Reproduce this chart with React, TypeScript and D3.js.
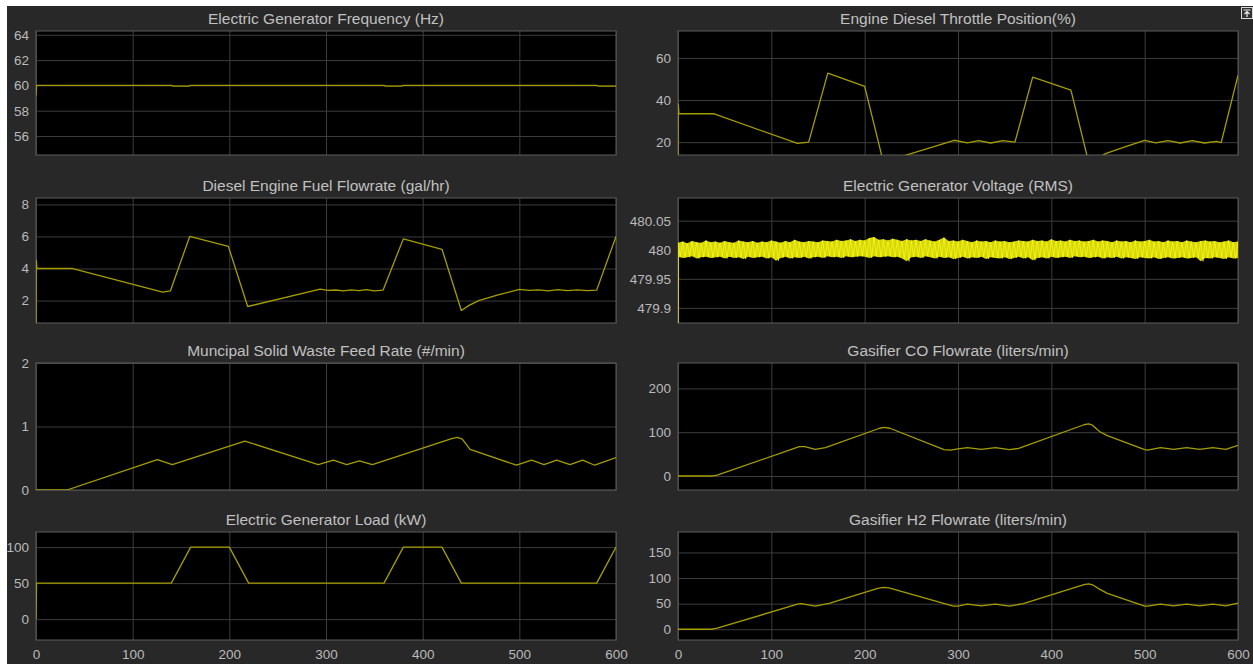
import React, { useEffect, useRef } from "react";
import * as d3 from "d3";

type Pt = [number, number];

const W = 1253;
const H = 664;

const timeTicks = [0, 100, 200, 300, 400, 500, 600];

// [time (s), value]
const frequency: Pt[] = [
  [0, 59.2], [0.5, 60], [140, 60], [142, 59.94], [158, 59.94], [160, 60], [360, 60],
  [362, 59.94], [378, 59.94], [380, 60], [580, 60], [582, 59.95], [600, 59.95],
];

const throttle: Pt[] = [
  [0, 0], [0.3, 38], [1, 33.5], [38, 33.5], [128, 19.4], [140, 20], [160.5, 52.8],
  [200, 46.5], [220, 10.5], [296, 20.9], [310, 19.7], [322, 20.7], [335, 19.6],
  [348, 20.7], [361, 20], [380, 50.9], [421, 44.7], [441, 8.5], [448, 11.5], [458, 14.6],
  [478, 17.6], [500, 20.9], [512, 19.7], [525, 20.7], [538, 19.6], [551, 20.7],
  [564, 19.6], [577, 20.4], [582, 19.8], [600, 51.7],
];

const fuel: Pt[] = [
  [0, 0], [0.3, 4.5], [1, 4.0], [38, 4.0], [131, 2.52], [139, 2.6], [159, 6.0],
  [199, 5.38], [219, 1.63], [294, 2.72], [302, 2.64], [310, 2.66], [318, 2.6],
  [326, 2.67], [334, 2.62], [342, 2.68], [350, 2.6], [359, 2.65], [380, 5.85],
  [420, 5.2], [440, 1.38], [448, 1.7], [458, 2.0], [478, 2.35], [500, 2.7], [510, 2.63],
  [520, 2.67], [530, 2.6], [540, 2.68], [550, 2.62], [560, 2.67], [570, 2.62],
  [580, 2.65], [600, 6.0],
];

// voltage noise band, offsets from 480 V in mV every 5 s
const voltageTime = d3.range(0, 601, 5);
const voltageUpper = [
  12, 14, 11, 15, 13, 12, 16, 13, 14, 12,
  15, 13, 12, 16, 14, 13, 15, 12, 14, 13,
  16, 14, 12, 15, 13, 17, 14, 13, 15, 14,
  13, 16, 15, 14, 17, 15, 16, 18, 15, 17,
  16, 20, 22, 17, 18, 16, 19, 17, 15, 18,
  16, 17, 15, 18, 16, 14, 17, 21, 15, 16,
  14, 17, 15, 13, 16, 14, 15, 13, 16, 14,
  15, 13, 14, 16, 15, 14, 17, 15, 16, 14,
  18, 15, 16, 14, 17, 15, 16, 14, 15, 17,
  14, 16, 15, 13, 16, 14, 15, 13, 16, 14,
  15, 17, 14, 15, 13, 16, 14, 15, 13, 16,
  14, 13, 15, 16, 14, 15, 13, 14, 16, 13,
  14,
];
const voltageLower = [
  -12, -14, -13, -11, -15, -13, -12, -14, -13, -12,
  -15, -12, -14, -13, -16, -12, -14, -13, -12, -15,
  -13, -19, -14, -12, -15, -13, -14, -12, -15, -13,
  -12, -14, -11, -13, -12, -14, -11, -13, -12, -11,
  -12, -14, -11, -13, -12, -11, -13, -12, -15, -20,
  -13, -12, -14, -11, -13, -15, -12, -14, -13, -16,
  -14, -12, -15, -13, -14, -12, -16, -13, -14, -15,
  -13, -16, -14, -12, -15, -13, -18, -14, -13, -15,
  -12, -14, -13, -12, -14, -11, -13, -12, -14, -13,
  -12, -15, -13, -14, -12, -15, -13, -14, -16, -13,
  -14, -15, -13, -16, -14, -13, -15, -14, -13, -15,
  -14, -13, -20, -14, -15, -13, -14, -16, -13, -15,
  -14,
];
const voltageStart: Pt[] = [[0, 479.8], [0.3, 480]];

const mswFeed: Pt[] = [
  [0, 0], [32, 0], [125.5, 0.48], [141, 0.4], [216, 0.77], [292, 0.4], [307.6, 0.47],
  [321.4, 0.4], [334.5, 0.46], [348, 0.4], [430, 0.81], [436, 0.83], [441, 0.8],
  [449, 0.64], [497, 0.39], [512.7, 0.47], [525.5, 0.4], [538.6, 0.47], [552.4, 0.4],
  [565.5, 0.47], [578, 0.39], [600, 0.51],
];

const gasCO: Pt[] = [
  [0, 0], [37, 0], [42, 2], [130, 67], [136, 67], [147, 61], [158, 65], [216, 109],
  [221, 111], [227, 109], [285, 60], [292, 59], [300, 62], [310, 65], [325, 61],
  [340, 65], [355, 60], [365, 63], [435, 117], [440, 119], [444, 116], [452, 101],
  [460, 92], [500, 60], [503, 59], [517, 65], [531, 61], [545, 65], [559, 61],
  [573, 65], [587, 61], [600, 70],
];

const load: Pt[] = [
  [0, 0], [0.5, 50], [140, 50], [160, 100], [200, 100], [220, 50], [360, 50],
  [380, 100], [420, 100], [440, 50], [580, 50], [600, 100],
];

const gasH2: Pt[] = [
  [0, 0], [36, 0], [42, 2], [128, 49], [132, 50], [147, 45], [162, 50.5], [214, 80],
  [220, 82], [226, 81], [295, 45], [300, 45], [310, 49], [325, 45.5], [340, 49],
  [355, 45], [370, 50], [435, 87], [440, 88.5], [445, 86], [452, 78], [460, 70],
  [500, 45], [503, 45], [517, 49], [531, 45.5], [545, 49], [559, 45.5], [573, 49],
  [587, 45.5], [600, 51],
];

const panels = [
  { title: "Electric Generator Frequency (Hz)", col: 0, row: 0, data: frequency, domain: [54.5, 64.3], ticks: [56, 58, 60, 62, 64] },
  { title: "Engine Diesel Throttle Position(%)", col: 1, row: 0, data: throttle, domain: [13.9, 72.8], ticks: [20, 40, 60] },
  { title: "Diesel Engine Fuel Flowrate (gal/hr)", col: 0, row: 1, data: fuel, domain: [0.6, 8.4], ticks: [2, 4, 6, 8] },
  { title: "Electric Generator Voltage (RMS)", col: 1, row: 1, data: voltageStart, domain: [479.874, 480.089], ticks: [479.9, 479.95, 480, 480.05], band: true },
  { title: "Muncipal Solid Waste Feed Rate (#/min)", col: 0, row: 2, data: mswFeed, domain: [0, 2], ticks: [0, 1, 2] },
  { title: "Gasifier CO Flowrate (liters/min)", col: 1, row: 2, data: gasCO, domain: [-32, 258], ticks: [0, 100, 200] },
  { title: "Electric Generator Load (kW)", col: 0, row: 3, data: load, domain: [-29, 121], ticks: [0, 50, 100] },
  { title: "Gasifier H2 Flowrate (liters/min)", col: 1, row: 3, data: gasH2, domain: [-21, 190], ticks: [0, 50, 100, 150] },
];

const cols = [[36, 616], [678, 1238]];
const rows = [[31, 155], [198, 323], [363, 490], [532, 640]];

const font = "'Liberation Sans', Arial, Helvetica, sans-serif";
const gridColor = "#3d3d3d";
const textColor = "#bababa";
const traceColor = "#a59d00";

export default function App() {
  const ref = useRef<SVGSVGElement>(null);

  useEffect(() => {
    document.body.style.margin = "0";
    const svg = d3.select(ref.current);
    svg.selectAll("*").remove();

    svg.append("rect").attr("width", W).attr("height", H).attr("fill", "#ffffff");
    svg.append("rect").attr("x", 7).attr("y", 6).attr("width", W - 7).attr("height", H - 6).attr("fill", "#282828");

    // undock icon, top right
    svg.append("rect").attr("x", 1241.5).attr("y", 7.5).attr("width", 11).attr("height", 11)
      .attr("fill", "#333").attr("stroke", "#d8d8d8");
    svg.append("path").attr("d", "M1243.5 10H1250.5M1247 17V11.5M1244.5 14L1247 11.5L1249.5 14")
      .attr("fill", "none").attr("stroke", "#eee").attr("stroke-width", 1.2);

    panels.forEach((p, i) => {
      const [x0, x1] = cols[p.col];
      const [y0, y1] = rows[p.row];
      const x = d3.scaleLinear().domain([0, 600]).range([x0, x1]);
      const y = d3.scaleLinear().domain(p.domain).range([y1, y0]);
      const g = svg.append("g").attr("font-family", font);

      g.append("rect").attr("x", x0).attr("y", y0).attr("width", x1 - x0).attr("height", y1 - y0).attr("fill", "#000");

      const xAxis = g.append("g")
        .attr("transform", `translate(0,${y1})`)
        .call(d3.axisBottom(x).tickValues(timeTicks).tickSize(-(y1 - y0)).tickPadding(9)
          .tickFormat(p.row === 3 ? d3.format("d") : () => ""));
      xAxis.select(".domain").remove();
      xAxis.selectAll(".tick line").attr("stroke", gridColor);
      xAxis.selectAll("text").attr("fill", textColor).attr("font-size", 13.5);

      const yAxis = g.append("g")
        .attr("transform", `translate(${x0},0)`)
        .call(d3.axisLeft(y).tickValues(p.ticks).tickSize(-(x1 - x0)).tickPadding(7)
          .tickFormat((d) => String(+(+d).toFixed(2))));
      yAxis.select(".domain").remove();
      yAxis.selectAll(".tick line").attr("stroke", gridColor);
      yAxis.selectAll("text").attr("fill", textColor).attr("font-size", 13.5);

      g.append("rect").attr("x", x0).attr("y", y0).attr("width", x1 - x0).attr("height", y1 - y0)
        .attr("fill", "none").attr("stroke", "#5c5c5c");

      g.append("text")
        .attr("x", (x0 + x1) / 2).attr("y", y0 - 7)
        .attr("text-anchor", "middle").attr("font-size", 15.5).attr("fill", "#c0c0c0")
        .text(p.title);

      const clipId = "clip" + i;
      g.append("clipPath").attr("id", clipId)
        .append("rect").attr("x", x0).attr("y", y0).attr("width", x1 - x0).attr("height", y1 - y0);
      const plot = g.append("g").attr("clip-path", `url(#${clipId})`);

      if (p.band) {
        const area = d3.area<number>()
          .x((_, k) => x(voltageTime[k]))
          .y0((_, k) => y(480 + voltageLower[k] / 1000))
          .y1((_, k) => y(480 + voltageUpper[k] / 1000));
        plot.append("path").datum(voltageUpper).attr("d", area)
          .attr("fill", "#d6d600");
        const zig: Pt[] = [];
        voltageTime.forEach((t, k) => {
          zig.push([t, 480 + voltageUpper[k] / 1000]);
          zig.push([t + 2.5, 480 + voltageLower[k] / 1000]);
        });
        plot.append("path").datum(zig)
          .attr("d", d3.line<Pt>().x((d) => x(d[0])).y((d) => y(d[1])))
          .attr("fill", "none").attr("stroke", "#ffff3a").attr("stroke-width", 0.6);
      }

      plot.append("path").datum(p.data)
        .attr("d", d3.line<Pt>().x((d) => x(d[0])).y((d) => y(d[1])))
        .attr("fill", "none")
        .attr("stroke", p.band ? "#e4e400" : traceColor)
        .attr("stroke-width", 1.3)
        .attr("stroke-linejoin", "round");
    });
  }, []);

  return <svg ref={ref} width={W} height={H} style={{ display: "block" }} />;
}
